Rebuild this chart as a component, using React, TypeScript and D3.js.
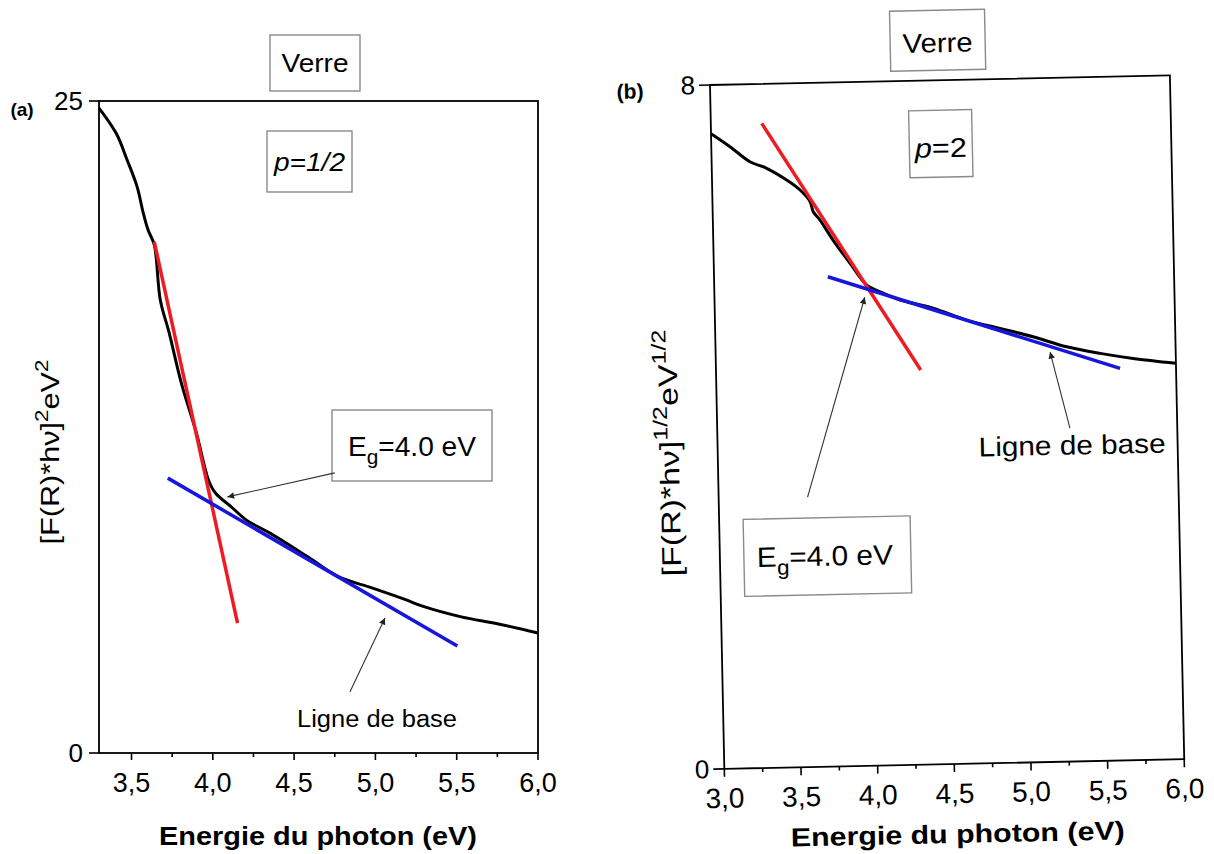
import React from "react";
import * as d3 from "d3";

// ---------- Panel (a) : p = 1/2 ----------
const energyA = [3.30, 3.405, 3.473, 3.535, 3.572, 3.602, 3.640, 3.677, 3.732, 3.806, 3.899, 3.973, 4.016, 4.115, 4.207, 4.349, 4.584, 4.775, 4.960, 5.177, 5.294, 5.528, 5.763, 6.00];
const signalA = [24.73, 23.77, 22.74, 21.70, 20.71, 20.05, 19.48, 17.37, 16.10, 14.19, 12.27, 10.47, 9.97, 9.43, 8.93, 8.44, 7.52, 6.75, 6.37, 5.90, 5.62, 5.22, 4.94, 4.60];
const tangentEnergyA = [3.64, 4.152];
const tangentValueA = [19.6, 4.98];
const baseEnergyA = [3.723, 5.504];
const baseValueA = [10.54, 4.10];
const xMajorA = [3.5, 4.0, 4.5, 5.0, 5.5, 6.0];
const xMinorA = [3.75, 4.25, 4.75, 5.25, 5.75];
const yTicksA = [0, 25];

// ---------- Panel (b) : p = 2 ----------
const energyB = [3.00, 3.122, 3.250, 3.358, 3.487, 3.573, 3.637, 3.656, 3.699, 3.781, 3.889, 3.995, 4.081, 4.210, 4.424, 4.642, 4.858, 5.072, 5.290, 5.507, 5.722, 6.00];
const signalB = [7.43, 7.274, 7.093, 7.012, 6.870, 6.750, 6.611, 6.493, 6.394, 6.157, 5.881, 5.622, 5.540, 5.439, 5.337, 5.188, 5.083, 4.977, 4.851, 4.766, 4.699, 4.632];
const tangentEnergyB = [3.332, 4.335];
const tangentValueB = [7.539, 4.615];
const baseEnergyB = [3.742, 5.635];
const baseValueB = [5.729, 4.586];
const xMajorB = [3.0, 3.5, 4.0, 4.5, 5.0, 5.5, 6.0];
const xMinorB = [3.25, 3.75, 4.25, 4.75, 5.25, 5.75];
const yTicksB = [0, 8];

// annotation anchors (data coordinates)
const egArrowA = [[4.75, 10.74], [4.09, 9.82]];
const baseArrowA = [[4.843, 2.34], [5.059, 5.18]];
const egArrowB = [[3.58, 3.157], [3.98, 5.48]];
const baseArrowB = [[5.30, 3.90], [5.181, 4.794]];

const FONT = "'Liberation Sans', Arial, Helvetica, sans-serif";
const RED = "#ee1b22";
const BLUE = "#1616dc";
const fmt = d3.formatLocale({ decimal: ",", thousands: " ", grouping: [3], currency: ["", ""] }).format(".1f");

function Box({ x, y, w, h }: { x: number; y: number; w: number; h: number }) {
  return <rect x={x} y={y} width={w} height={h} fill="#fff" stroke="#8a8a8a" strokeWidth={1.4} />;
}

export default function App() {
  const xA = d3.scaleLinear().domain([3.3, 6.0]).range([99, 538]);
  const yA = d3.scaleLinear().domain([0, 25]).range([753, 101]);
  const xB = d3.scaleLinear().domain([3.0, 6.0]).range([710, 1170]);
  const yB = d3.scaleLinear().domain([0, 8]).range([769, 85]);

  const curve = d3.curveCatmullRom.alpha(0.5);
  const pathA = d3.line<number>().x((_, i) => xA(energyA[i])).y((d) => yA(d)).curve(curve)(signalA) || "";
  const pathB = d3.line<number>().x((_, i) => xB(energyB[i])).y((d) => yB(d)).curve(curve)(signalB) || "";
  const seg = (xs: number[], ys: number[], sx: any, sy: any) =>
    d3.line<number>().x((_, i) => sx(xs[i])).y((d) => sy(d))(ys) || "";

  const arrow = (pts: number[][], sx: any, sy: any, key: string) => (
    <line key={key} x1={sx(pts[0][0])} y1={sy(pts[0][1])} x2={sx(pts[1][0])} y2={sy(pts[1][1])}
      stroke="#333" strokeWidth={1.1} markerEnd="url(#ah)" />
  );

  const [a0, a1] = xA.range();
  const [ab, at] = yA.range();
  const [b0, b1] = xB.range();
  const [bb, bt] = yB.range();

  return (
    <svg width={1214} height={854} style={{ position: "absolute", left: 0, top: 0, background: "#fff" }}
      fontFamily={FONT}>
      <defs>
        <marker id="ah" viewBox="0 0 10 10" refX="10" refY="5" markerWidth="9" markerHeight="6" orient="auto">
          <path d="M0,0 L10,5 L0,10 z" fill="#222" />
        </marker>
      </defs>
      <rect x={0} y={0} width={1214} height={854} fill="#fff" />

      {/* ================= Panel (a) ================= */}
      <g>
        <Box x={270} y={35} w={90} h={56} />
        <text x={315} y={72} fontSize={26} textAnchor="middle" textLength={67} lengthAdjust="spacingAndGlyphs">Verre</text>

        <text x={22} y={116} fontSize={19} fontWeight="bold" textAnchor="middle">(a)</text>

        {/* data lines */}
        <path d={pathA} fill="none" stroke="#000" strokeWidth={3} strokeLinejoin="round" />
        <path d={seg(tangentEnergyA, tangentValueA, xA, yA)} stroke={RED} strokeWidth={3.5} fill="none" />
        <path d={seg(baseEnergyA, baseValueA, xA, yA)} stroke={BLUE} strokeWidth={3.5} fill="none" />

        {/* frame */}
        <rect x={a0} y={at} width={a1 - a0} height={ab - at} fill="none" stroke="#000" strokeWidth={1.8} />

        {/* x ticks */}
        {xMajorA.map((t) => (
          <g key={"xa" + t}>
            <line x1={xA(t)} x2={xA(t)} y1={ab} y2={ab + 7} stroke="#000" strokeWidth={1.6} />
            <text x={xA(t)} y={792} fontSize={27} textAnchor="middle">{fmt(t)}</text>
          </g>
        ))}
        {xMinorA.map((t) => (
          <line key={"xam" + t} x1={xA(t)} x2={xA(t)} y1={ab} y2={ab + 4} stroke="#000" strokeWidth={1.6} />
        ))}
        {yTicksA.map((t) => (
          <g key={"ya" + t}>
            <line x1={a0 - 10} x2={a0} y1={yA(t)} y2={yA(t)} stroke="#000" strokeWidth={1.6} />
            <text x={a0 - 16} y={yA(t) + 9} fontSize={26} textAnchor="end">{t}</text>
          </g>
        ))}

        {/* axis titles */}
        <text x={318} y={845} fontSize={25} fontWeight="bold" textAnchor="middle" textLength={318} lengthAdjust="spacingAndGlyphs">Energie du photon (eV)</text>
        <text transform="translate(59,452) rotate(-90)" fontSize={26} textAnchor="middle" textLength={185} lengthAdjust="spacingAndGlyphs">
          [F(R)*hν]<tspan dy={-11} fontSize={19}>2</tspan><tspan dy={11}>eV</tspan><tspan dy={-11} fontSize={19}>2</tspan>
        </text>

        {/* annotations */}
        <Box x={267} y={131} w={85} h={61} />
        <text x={309.5} y={171} fontSize={26} fontStyle="italic" textAnchor="middle" textLength={71} lengthAdjust="spacingAndGlyphs">p=1/2</text>

        <Box x={332} y={410} w={160} h={71} />
        <text x={348} y={456} fontSize={27} textLength={128} lengthAdjust="spacingAndGlyphs">
          E<tspan dy={8} fontSize={20}>g</tspan><tspan dy={-8}>=4.0 eV</tspan>
        </text>
        {arrow(egArrowA, xA, yA, "ega")}

        <text x={297} y={727} fontSize={23} textLength={160} lengthAdjust="spacingAndGlyphs">Ligne de base</text>
        {arrow(baseArrowA, xA, yA, "basea")}
      </g>

      {/* ================= Panel (b) (slightly rotated scan) ================= */}
      <g transform="rotate(-1.2 710 85)">
        <Box x={891} y={15} w={95} h={60} />
        <text x={938.5} y={57} fontSize={27} textAnchor="middle" textLength={70} lengthAdjust="spacingAndGlyphs">Verre</text>

        <text x={630} y={97} fontSize={21} fontWeight="bold" textAnchor="middle">(b)</text>

        <path d={pathB} fill="none" stroke="#000" strokeWidth={3} strokeLinejoin="round" />
        <path d={seg(tangentEnergyB, tangentValueB, xB, yB)} stroke={RED} strokeWidth={3.5} fill="none" />
        <path d={seg(baseEnergyB, baseValueB, xB, yB)} stroke={BLUE} strokeWidth={3.5} fill="none" />

        <rect x={b0} y={bt} width={b1 - b0} height={bb - bt} fill="none" stroke="#000" strokeWidth={1.8} />

        {xMajorB.map((t) => (
          <g key={"xb" + t}>
            <line x1={xB(t)} x2={xB(t)} y1={bb} y2={bb + 8} stroke="#000" strokeWidth={1.6} />
            <text x={xB(t)} y={808} fontSize={28} textAnchor="middle">{fmt(t)}</text>
          </g>
        ))}
        {xMinorB.map((t) => (
          <line key={"xbm" + t} x1={xB(t)} x2={xB(t)} y1={bb} y2={bb + 4} stroke="#000" strokeWidth={1.6} />
        ))}
        {yTicksB.map((t) => (
          <g key={"yb" + t}>
            <line x1={b0 - 11} x2={b0} y1={yB(t)} y2={yB(t)} stroke="#000" strokeWidth={1.6} />
            <text x={b0 - 15} y={yB(t) + 9} fontSize={26} textAnchor="end">{t}</text>
          </g>
        ))}

        <text x={942} y={848} fontSize={26} fontWeight="bold" textAnchor="middle" textLength={334} lengthAdjust="spacingAndGlyphs">Energie du photon (eV)</text>
        <text transform="translate(671,452) rotate(-90)" fontSize={27} textAnchor="middle" textLength={247} lengthAdjust="spacingAndGlyphs">
          [F(R)*hν]<tspan dy={-11} fontSize={20}>1/2</tspan><tspan dy={11}>eV</tspan><tspan dy={-11} fontSize={20}>1/2</tspan>
        </text>

        <Box x={908} y={115} w={63} h={67} />
        <text x={939.5} y={162} fontSize={27} textAnchor="middle" textLength={52} lengthAdjust="spacingAndGlyphs">
          <tspan fontStyle="italic">p</tspan>=2
        </text>

        <Box x={734} y={520} w={167} h={77} />
        <text x={747} y={568} fontSize={28} textLength={136} lengthAdjust="spacingAndGlyphs">
          E<tspan dy={8} fontSize={21}>g</tspan><tspan dy={-8}>=4.0 eV</tspan>
        </text>
        {arrow(egArrowB, xB, yB, "egb")}

        <text x={971} y={462} fontSize={27} textLength={187} lengthAdjust="spacingAndGlyphs">Ligne de base</text>
        {arrow(baseArrowB, xB, yB, "baseb")}
      </g>
    </svg>
  );
}
